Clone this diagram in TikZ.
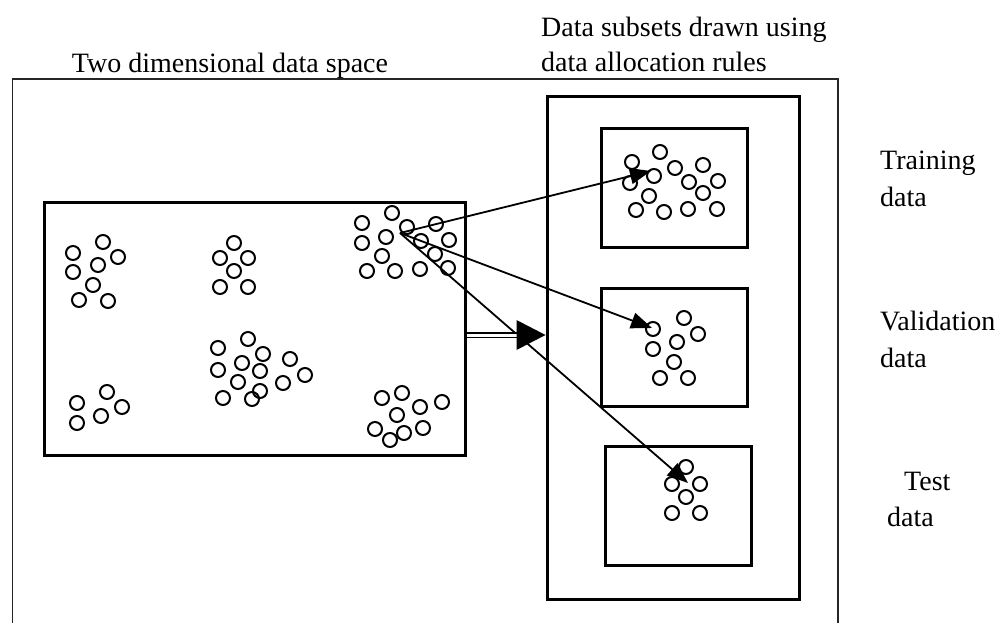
\documentclass[tikz,border=0pt]{standalone}
\usepackage{fontspec}
\setmainfont{Liberation Serif}
\usetikzlibrary{arrows.meta}
\begin{document}
\begin{tikzpicture}[x=1pt,y=-1pt,
  frame/.style={draw=black!85, line width=1.6pt},
  box/.style={draw=black, line width=3pt, rectangle, inner sep=0pt},
  pt/.style={draw=black, line width=2pt},
  label/.style={anchor=base west, inner sep=0pt, font=\fontsize{28}{33}\selectfont},
  link/.style={draw=black, line width=1.8pt, -{Triangle[length=21pt,width=16pt]}},
]
\useasboundingbox (0,0) rectangle (1007,623);
\fill[white] (0,0) rectangle (1007,623);

% outer frame, open at the bottom
\draw[frame] (12.5,640) -- (12.5,79) -- (838,79) -- (838,640);

% the data space and the subset boxes
\node[box, minimum width=421pt, minimum height=253pt] (space) at (254.5,328.5) {};
\node[box, minimum width=252pt, minimum height=502pt] (subsets) at (673,348) {};
\node[box, minimum width=146pt, minimum height=118pt] (train) at (674.5,188) {};
\node[box, minimum width=146pt, minimum height=118pt] (valid) at (674.5,347) {};
\node[box, minimum width=146pt, minimum height=119pt] (test) at (678,505.5) {};

% points of the data space
\foreach \p in {(73,253),(103,242),(118,257),(98,265),(73,272),(93,285),(79,300),(108,301),
  (234,243),(220,258),(248,258),(234,271),(220,287),(248,287),
  (248,339),(218,348),(263,354),(290,359),(242,363),(218,370),(260,371),(305,375),
  (238,382),(283,383),(260,391),(223,398),(252,399),
  (392,213),(362,223),(407,227),(436,224),(386,237),(362,243),(421,241),(449,240),
  (382,256),(435,254),(367,271),(395,271),(420,269),(448,268),
  (107,392),(77,403),(122,407),(101,416),(77,423),
  (382,398),(402,393),(420,407),(442,402),(397,415),(375,429),(404,433),(423,428),(390,440)}
  \draw[pt] \p circle (7);

% points of the training subset
\foreach \p in {(660,152),(632,162),(675,168),(703,165),(654,176),(630,183),(689,182),
  (718,181),(703,193),(649,196),(636,210),(664,212),(688,209),(717,209)}
  \draw[pt] \p circle (7);

% points of the validation subset
\foreach \p in {(684,318),(653,329),(698,334),(677,342),(653,349),(674,362),(660,378),(688,378)}
  \draw[pt] \p circle (7);

% points of the test subset
\foreach \p in {(686,467),(672,484),(700,484),(686,497),(672,513),(700,513)}
  \draw[pt] \p circle (7);

% allocation of points to the subsets
\coordinate (src) at (400,233);
\coordinate (toTrain) at (651,171);
\coordinate (toValid) at (652,328);
\coordinate (toTest) at (688,483);
\draw[link] (src) -- (toTrain);
\draw[link] (src) -- (toValid);
\draw[link] (src) -- (toTest);

% data space feeding the subsets
\coordinate (dsOut) at (space.east |- 0,335);
\coordinate (dsIn) at (subsets.west |- 0,335);
\coordinate (dsBase) at ([xshift=-29pt]dsIn);
\draw[draw=black, line width=1.6pt, double=white, double distance=3pt] (dsOut) -- ([xshift=1pt]dsBase);
\fill[black] ([yshift=-15pt]dsBase) -- (dsIn) -- ([yshift=15pt]dsBase) -- cycle;

% captions
\node[anchor=base, inner sep=0pt, font=\fontsize{28}{33}\selectfont] (capSpace) at (230,73) {Two dimensional data space};
\node[label] (capSub1) at (541,37) {Data subsets drawn using};
\node[label] (capSub2) at (541,72) {data allocation rules};
\node[label] (lTrain1) at (880,170) {Training};
\node[label] (lTrain2) at (880,207) {data};
\node[label] (lValid1) at (880,330) {Validation};
\node[label] (lValid2) at (880,367) {data};
\node[label] (lTest1) at (904,490) {Test};
\node[label] (lTest2) at (887,526) {data};
\end{tikzpicture}
\end{document}
